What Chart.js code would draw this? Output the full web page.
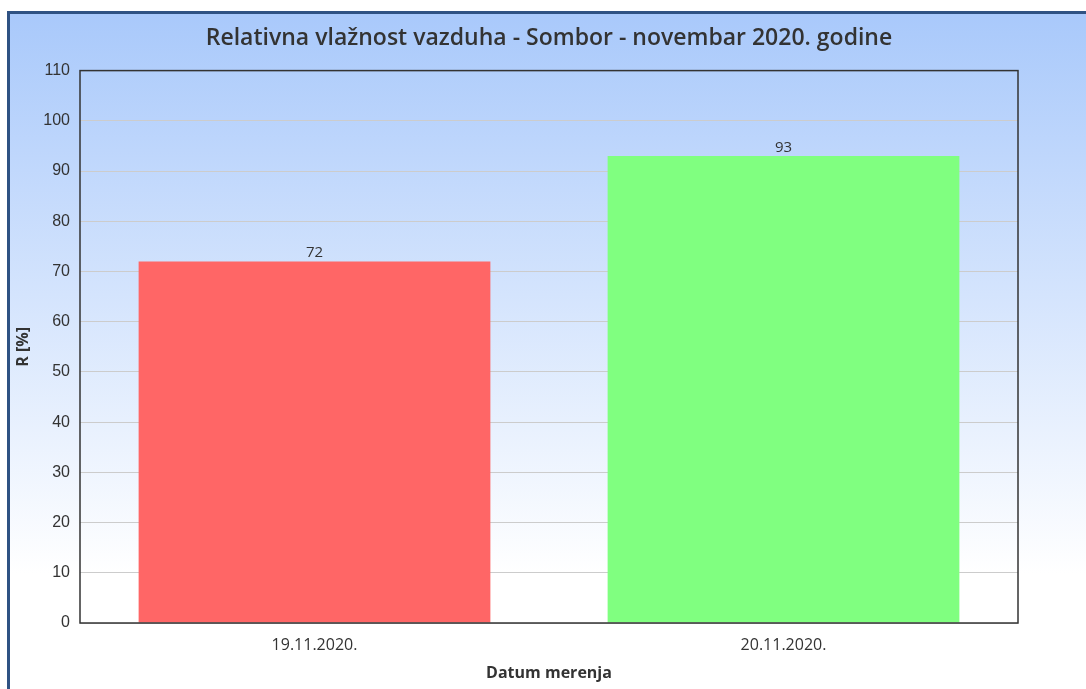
<!DOCTYPE html>
<html>
<head>
<meta charset="utf-8">
<script src="https://cdn.jsdelivr.net/npm/chart.js@4"></script>
<style>
  html, body { margin: 0; padding: 0; background: #ffffff; overflow: hidden; }
  #frame {
    position: absolute; left: 7px; top: 11px; width: 1100px; height: 700px;
    border-left: 3px solid #2f5283; border-top: 3px solid #2f5283;
    background: linear-gradient(to bottom, #a9c9fb 0px, #ffffff 560px);
  }
  #wrap { position: absolute; left: 0; top: 0; width: 1086px; height: 689px; }
</style>
</head>
<body>
<div id="frame"></div>
<div id="wrap"><canvas id="c" width="1086" height="689"></canvas></div>
<script>
const titleText = 'Relativna vlažnost vazduha - Sombor - novembar 2020. godine';
const categories = ['19.11.2020.', '20.11.2020.'];
const humidity = [72, 93];
const barColors = ['#ff6666', '#80ff80'];
const yAxisTitle = 'R [%]';
const xAxisTitle = 'Datum merenja';

const frameAndLabels = {
  id: 'frameAndLabels',
  afterDatasetsDraw(chart) {
    const ctx = chart.ctx;
    const meta = chart.getDatasetMeta(0);
    ctx.save();
    ctx.font = '15px "Open Sans"';
    ctx.fillStyle = '#333333';
    ctx.textAlign = 'center';
    ctx.textBaseline = 'alphabetic';
    meta.data.forEach((bar, i) => {
      ctx.fillText(String(chart.data.datasets[0].data[i]), bar.x, bar.y - 4);
    });
    const a = chart.chartArea;
    ctx.strokeStyle = '#333333';
    ctx.lineWidth = 1.5;
    ctx.strokeRect(a.left, a.top, a.right - a.left, a.bottom - a.top);
    ctx.restore();
  }
};

new Chart(document.getElementById('c'), {
  type: 'bar',
  data: {
    labels: categories,
    datasets: [{
      data: humidity,
      backgroundColor: barColors,
      borderWidth: 0,
      barPercentage: 0.75,
      categoryPercentage: 1.0
    }]
  },
  options: {
    responsive: false,
    animation: false,
    layout: { padding: { left: 0, right: 68, top: 0, bottom: 0 } },
    plugins: {
      legend: { display: false },
      tooltip: { enabled: false },
      title: {
        display: true,
        fullSize: false,
        text: titleText,
        color: '#333333',
        font: { family: 'Open Sans', size: 23, weight: '600' },
        padding: { top: 25, bottom: 18 }
      }
    },
    scales: {
      x: {
        grid: { display: false, drawTicks: false },
        border: { display: false },
        ticks: { color: '#333333', font: { family: 'Open Sans', size: 16 }, padding: 13 },
        title: { display: true, text: xAxisTitle, color: '#333333',
                 font: { family: 'Open Sans', size: 16, weight: 'bold' }, padding: { top: 0, bottom: 6 } },
        afterFit(s) { s.height = 66; }
      },
      y: {
        min: 0, max: 110,
        grid: { color: '#cccccc', drawTicks: false, lineWidth: 1 },
        border: { display: false },
        ticks: { stepSize: 10, color: '#333333', font: { family: 'Liberation Sans', size: 16 }, padding: 10 },
        title: { display: true, text: yAxisTitle, color: '#333333',
                 font: { family: 'Open Sans', size: 16, weight: 'bold' }, padding: { top: 14, bottom: 0 } },
        afterFit(s) { s.width = 80; }
      }
    }
  },
  plugins: [frameAndLabels]
});
</script>
</body>
</html>
